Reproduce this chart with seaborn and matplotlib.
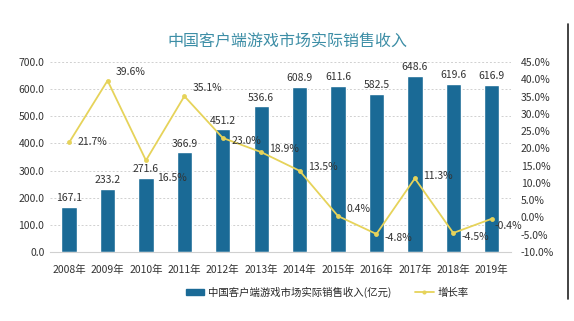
import matplotlib
matplotlib.use("Agg")
import matplotlib.pyplot as plt
import seaborn as sns
import pandas as pd
from matplotlib.patches import Patch
from matplotlib.lines import Line2D

years = ["2008年", "2009年", "2010年", "2011年", "2012年", "2013年",
         "2014年", "2015年", "2016年", "2017年", "2018年", "2019年"]
revenue = [167.1, 233.2, 271.6, 366.9, 451.2, 536.6, 608.9, 611.6, 582.5, 648.6, 619.6, 616.9]
growth = [21.7, 39.6, 16.5, 35.1, 23.0, 18.9, 13.5, 0.4, -4.8, 11.3, -4.5, -0.4]
growth_labels = ["21.7%", "39.6%", "16.5%", "35.1%", "23.0%", "18.9%", "13.5%",
                 "0.4%", "-4.8%", "11.3%", "-4.5%", "-0.4%"]

title = "中国客户端游戏市场实际销售收入"
bar_name = "中国客户端游戏市场实际销售收入(亿元)"
line_name = "增长率"

sns.set_theme(style="white")
plt.rcParams['font.family'] = ['Noto Sans CJK SC', 'DejaVu Sans']

BAR = "#1a6a96"
LINE = "#e6d35a"
TXT = "#333333"

df = pd.DataFrame({"year": years, "revenue": revenue, "growth": growth})

fig = plt.figure(figsize=(5.74, 3.21), dpi=100)
ax = fig.add_axes([0.087, 0.215, 0.803, 0.592])

sns.barplot(data=df, x="year", y="revenue", color=BAR, width=0.4, ax=ax,
            saturation=1)
ax.set_ylim(0, 700)
ax.set_yticks([i * 100 for i in range(8)])
ax.set_yticklabels([f"{i*100:.1f}" for i in range(8)], fontsize=7.5, color=TXT)
ax.set_xlabel("")
ax.set_ylabel("")
ax.tick_params(axis="x", labelsize=7.5, colors=TXT, length=0, pad=9)
ax.tick_params(axis="y", length=0, pad=4)
for v in [i * 100 for i in range(1, 8)]:
    ax.axhline(v, color="#d0d0d0", lw=0.7, ls=(0, (2, 2)), zorder=0)
for s in ["top", "right", "left"]:
    ax.spines[s].set_visible(False)
ax.spines["bottom"].set_color("#d0d0d0")
ax.spines["bottom"].set_linewidth(0.8)
ax.set_xlim(-0.5, len(years) - 0.5)

for i, v in enumerate(revenue):
    ax.text(i, v + 14, f"{v:.1f}", ha="center", va="bottom", fontsize=7.5, color=TXT)

ax2 = ax.twinx()
sns.lineplot(x=list(range(len(years))), y=growth, ax=ax2, color=LINE, lw=1.3,
             marker="o", markersize=3.5, markeredgewidth=0, legend=False)
ax2.set_ylim(-10, 45)
ax2.set_yticks(list(range(-10, 50, 5)))
ax2.set_yticklabels([f"{t:.1f}%" for t in range(-10, 50, 5)], fontsize=7.5, color=TXT)
ax2.tick_params(axis="y", length=0, pad=7)
for s in ["top", "right", "left", "bottom"]:
    ax2.spines[s].set_visible(False)
ax2.set_xlim(-0.5, len(years) - 0.5)

offsets = [(6, 0), (6, 6), (8, -13), (6, 6), (6, -2), (6, 2), (6, 3), (6, 5),
           (6, -3), (6, 2), (6, -3), (2, -5)]
for i, (g, lab) in enumerate(zip(growth, growth_labels)):
    dx, dy = offsets[i]
    ax2.annotate(lab, (i, g), xytext=(dx, dy), textcoords="offset points",
                 ha="left", va="center", fontsize=7.5, color=TXT)

fig.text(0.5, 0.868, title, fontsize=11.5, color="#3d8ea6", ha="center", va="center")

handles = [Patch(facecolor=BAR, edgecolor=BAR),
           Line2D([0], [0], color=LINE, lw=1.3, marker="o", markersize=3, markeredgewidth=0)]
fig.legend(handles, [bar_name, line_name], loc="center", bbox_to_anchor=(0.57, 0.09),
           ncol=2, frameon=False, fontsize=7.5, handlelength=1.8, columnspacing=2.2,
           handletextpad=0.4, handleheight=0.6)

fig.add_artist(Line2D([0.99, 0.99], [0.07, 0.925], color="#222222", lw=1.2))

fig.savefig("out.png", dpi=100)
